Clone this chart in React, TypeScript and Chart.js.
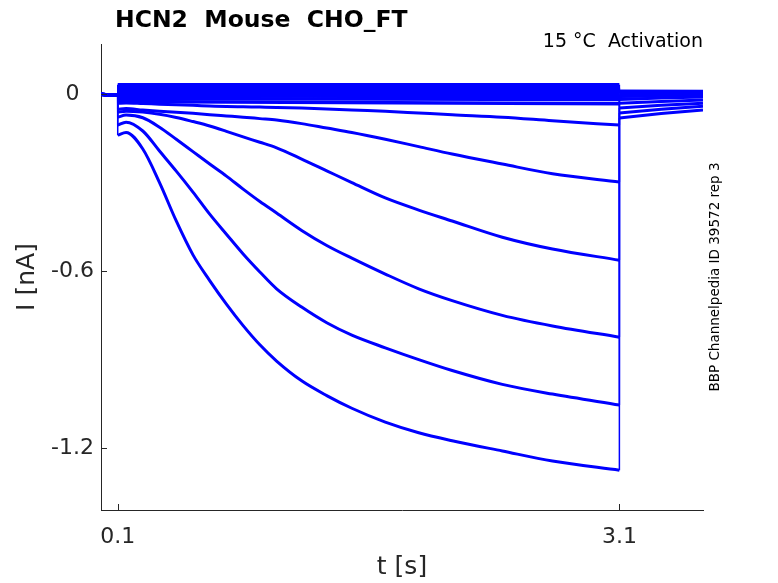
import React, { useEffect, useRef } from "react";
import Chart from "chart.js/auto";

// holding period before the step (shared by every sweep)
const baseTimes = [0, 0.04, 0.08, 0.1];
const baseCurrent = [0, -0.003, -0.004, -0.002];

// activation step, read at these times [s]
const stepTimes = [
  0.1, 0.15, 0.25, 0.35, 0.45, 0.55, 0.65, 0.75, 0.85, 0.95, 1.05, 1.2, 1.35,
  1.5, 1.7, 1.9, 2.1, 2.4, 2.7, 3.1,
];
const sweepA = [
  -0.139, -0.13, -0.186, -0.3, -0.43, -0.545, -0.632, -0.712, -0.785, -0.85,
  -0.905, -0.972, -1.022, -1.065, -1.112, -1.148, -1.175, -1.21, -1.244, -1.275,
];
const sweepB = [
  -0.105, -0.095, -0.125, -0.193, -0.261, -0.332, -0.407, -0.475, -0.542, -0.603,
  -0.66, -0.722, -0.775, -0.817, -0.86, -0.9, -0.937, -0.984, -1.017, -1.054,
];
const sweepC = [
  -0.078, -0.071, -0.08, -0.112, -0.153, -0.195, -0.237, -0.278, -0.322, -0.364,
  -0.403, -0.462, -0.513, -0.556, -0.61, -0.66, -0.7, -0.75, -0.786, -0.824,
];
const sweepD = [
  -0.061, -0.058, -0.061, -0.068, -0.079, -0.093, -0.108, -0.126, -0.145, -0.163,
  -0.182, -0.22, -0.26, -0.3, -0.352, -0.393, -0.43, -0.485, -0.525, -0.563,
];
const sweepE = [
  -0.051, -0.049, -0.054, -0.058, -0.061, -0.065, -0.07, -0.074, -0.078, -0.083,
  -0.088, -0.1, -0.115, -0.13, -0.153, -0.178, -0.203, -0.237, -0.27, -0.298,
];
const sweepF = [
  -0.031, -0.03, -0.032, -0.034, -0.036, -0.038, -0.04, -0.042, -0.043, -0.044,
  -0.045, -0.047, -0.05, -0.054, -0.058, -0.064, -0.07, -0.078, -0.09, -0.105,
];

// tail currents after the step
const tailTimes = [3.1, 3.35, 3.6];
const tailA = [-0.081, -0.066, -0.054];
const tailB = [-0.064, -0.051, -0.041];
const tailC = [-0.047, -0.038, -0.031];
const tailD = [-0.031, -0.025, -0.02];
const tailE = [-0.018, -0.013, -0.01];
const tailF = [-0.008, -0.006, -0.004];

// small sweeps that barely activate (flat bundle near 0)
const bundleStart = [0.032, 0.022, 0.012, 0.003, -0.006, -0.015, -0.025];
const bundleEnd = [0.032, 0.022, 0.012, 0.002, -0.008, -0.018, -0.033];
const bundleTailStart = [0.01, 0.007, 0.004, 0.001, -0.002, -0.004, -0.006];
const bundleTailEnd = [0.009, 0.006, 0.004, 0.001, -0.001, -0.003, -0.004];

const xTicks = [0.1, 3.1];
const yTicks = [-1.2, -0.6, 0];

const traceColor = "#0000ff";
const axisInk = "#262626";

type Pt = { x: number; y: number };

const basePoints = (): Pt[] =>
  baseTimes.map((t, i) => ({ x: t, y: baseCurrent[i] }));

const annotations = {
  id: "annotations",
  afterDatasetsDraw(chart: any) {
    const { ctx, chartArea, scales } = chart;
    ctx.save();
    // inward tick marks, MATLAB style
    ctx.strokeStyle = axisInk;
    ctx.lineWidth = 1;
    xTicks.forEach((v) => {
      const px = Math.round(scales.x.getPixelForValue(v)) + 0.5;
      ctx.beginPath();
      ctx.moveTo(px, chartArea.bottom);
      ctx.lineTo(px, chartArea.bottom - 6);
      ctx.stroke();
    });
    yTicks.forEach((v) => {
      const py = Math.round(scales.y.getPixelForValue(v)) + 0.5;
      ctx.beginPath();
      ctx.moveTo(chartArea.left, py);
      ctx.lineTo(chartArea.left + 6, py);
      ctx.stroke();
    });

    ctx.fillStyle = "#000";
    ctx.font = "bold 23.5px 'DejaVu Sans'";
    ctx.textAlign = "left";
    ctx.textBaseline = "alphabetic";
    ctx.fillText("HCN2  Mouse  CHO_FT", 115, 27);

    ctx.font = "19px 'DejaVu Sans'";
    ctx.textAlign = "right";
    ctx.fillText("15 °C  Activation", 703, 47);

    ctx.translate(715, 277);
    ctx.rotate(-Math.PI / 2);
    ctx.font = "13.5px 'DejaVu Sans'";
    ctx.textAlign = "center";
    ctx.textBaseline = "middle";
    ctx.fillText("BBP Channelpedia ID 39572 rep 3", 0, 0);
    ctx.restore();
  },
};

const App: React.FC = () => {
  const canvasRef = useRef<HTMLCanvasElement>(null);
  const chartRef = useRef<Chart>();

  useEffect(() => {
    if (!canvasRef.current) return;
    const ctx = canvasRef.current.getContext("2d");
    if (!ctx) return;
    if (chartRef.current) chartRef.current.destroy();

    const sweeps = [
      [sweepA, tailA],
      [sweepB, tailB],
      [sweepC, tailC],
      [sweepD, tailD],
      [sweepE, tailE],
      [sweepF, tailF],
    ];
    const datasets: any[] = [];
    // flat sweeps: one straight polyline each
    bundleStart.forEach((_, k) => {
      const pts: Pt[] = basePoints();
      pts.push({ x: 0.1, y: bundleStart[k] });
      pts.push({ x: 3.1, y: bundleEnd[k] });
      pts.push({ x: 3.1, y: bundleTailStart[k] });
      pts.push({ x: 3.6, y: bundleTailEnd[k] });
      datasets.push({ data: pts, borderWidth: 3.5 });
    });
    // activating sweeps: lead-in + jump, smooth step, jump + tail
    sweeps.forEach(([step, tail]) => {
      const lead = basePoints();
      lead.push({ x: stepTimes[0], y: step[0] });
      datasets.push({ data: lead, borderWidth: 3 });

      const body = stepTimes.map((t, i) => ({ x: t, y: step[i] }));
      datasets.push({
        data: body,
        borderWidth: 3,
        cubicInterpolationMode: "monotone",
      });

      const trail: Pt[] = [{ x: 3.1, y: step[step.length - 1] }];
      tailTimes.forEach((t, i) => trail.push({ x: t, y: tail[i] }));
      datasets.push({ data: trail, borderWidth: 3 });
    });
    datasets.forEach((d) => {
      d.borderColor = traceColor;
      d.pointRadius = 0;
      d.fill = false;
      d.segment = {
        borderWidth: (c: any) =>
          c.p0.parsed.x === c.p1.parsed.x ? 1.5 : undefined,
      };
    });

    chartRef.current = new Chart(ctx, {
      type: "line",
      data: { datasets },
      plugins: [annotations],
      options: {
        animation: false,
        responsive: true,
        maintainAspectRatio: false,
        layout: { padding: { top: 44, right: 75, bottom: 0, left: 0 } },
        plugins: {
          legend: { display: false },
          tooltip: { enabled: false },
        },
        scales: {
          x: {
            type: "linear",
            min: 0,
            max: 3.6,
            grid: { display: false, drawTicks: false },
            border: { display: true, color: axisInk, width: 1 },
            afterBuildTicks: (scale: any) => {
              scale.ticks = xTicks.map((v) => ({ value: v }));
            },
            afterFit: (scale: any) => {
              scale.height = 73;
            },
            ticks: {
              padding: 14,
              color: axisInk,
              font: { family: "'DejaVu Sans'", size: 22 },
              maxRotation: 0,
              callback: (v: any) => String(v),
            },
            title: {
              display: true,
              text: "t [s]",
              color: axisInk,
              font: { family: "'DejaVu Sans'", size: 25 },
              padding: { top: 0, bottom: 1 },
            },
          },
          y: {
            type: "linear",
            min: -1.41,
            max: 0.17,
            grid: { display: false, drawTicks: false },
            border: { display: true, color: axisInk, width: 1 },
            afterBuildTicks: (scale: any) => {
              scale.ticks = yTicks.map((v) => ({ value: v }));
            },
            afterFit: (scale: any) => {
              scale.width = 101;
            },
            ticks: {
              padding: 7,
              crossAlign: "center",
              color: axisInk,
              font: { family: "'DejaVu Sans'", size: 22 },
              callback: (v: any) => String(v),
            },
            title: {
              display: true,
              text: "I [nA]",
              color: axisInk,
              font: { family: "'DejaVu Sans'", size: 25 },
              padding: { top: 12, bottom: 0 },
            },
          },
        },
      },
    });

    return () => {
      if (chartRef.current) {
        chartRef.current.destroy();
        chartRef.current = undefined;
      }
    };
  }, []);

  return (
    <div
      style={{
        position: "absolute",
        left: 0,
        top: 0,
        width: 778,
        height: 583,
        background: "#fff",
      }}
    >
      <canvas ref={canvasRef} />
    </div>
  );
};

export default App;
